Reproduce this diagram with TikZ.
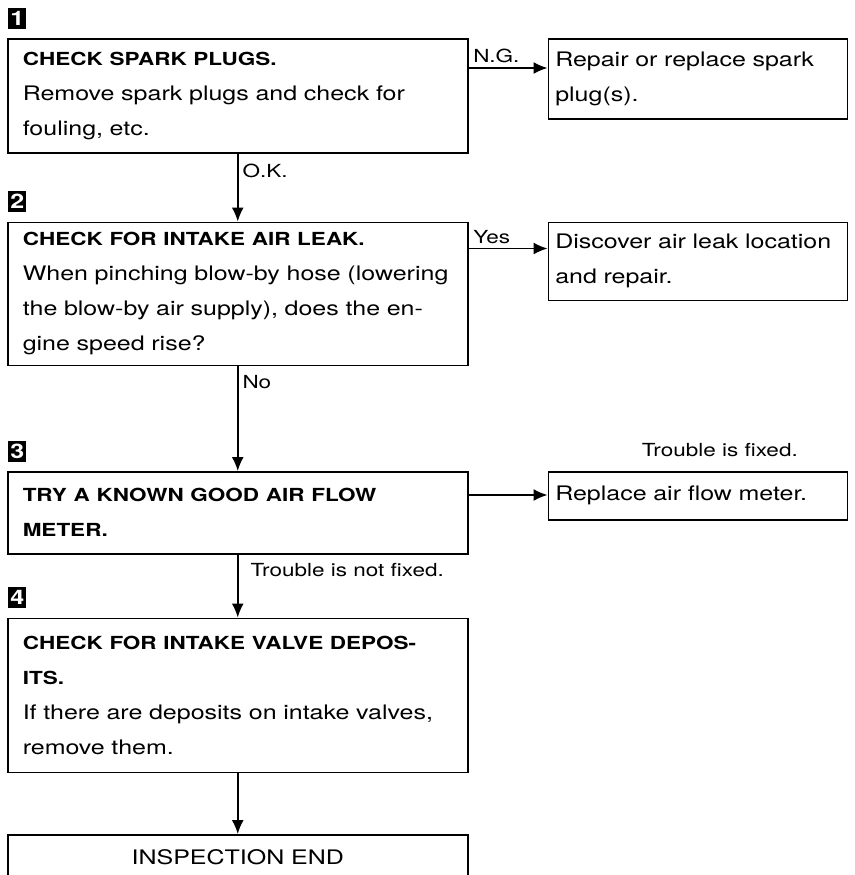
\documentclass[tikz,border=0pt]{standalone}
\usepackage{fontspec}
\setmainfont[FakeStretch=1.25]{TeX Gyre Heros}
\usetikzlibrary{positioning,arrows.meta}
\newcommand{\hd}[1]{{\fontsize{9}{17.5}\selectfont\bfseries #1}}

\begin{document}
\begin{tikzpicture}[node distance=34pt,
	box/.style={draw, line width=0.75pt, align=left, font=\fontsize{10}{17.5}\selectfont},
	stepbox/.style={box, text width=215pt, inner xsep=7.5pt, inner ysep=3pt},
	fixbox/.style={box, text width=142.5pt, inner xsep=3.5pt, inner ysep=3pt},
	num/.style={fill=black, text=white, font=\fontsize{10}{10}\selectfont\bfseries, minimum width=9pt, minimum height=10.5pt, inner sep=0pt},
	lbl/.style={font=\fontsize{9}{11}\selectfont, inner sep=2pt},
	line/.style={-{Latex[length=7pt,width=6pt]}, line width=0.75pt}]
	\useasboundingbox (0,0) rectangle (427.5pt,-437.5pt);

	% main column
	\node (plugs) [stepbox, minimum height=57pt, anchor=north west] at (3.5pt,-19pt)
		{\hd{CHECK SPARK PLUGS.}\\ Remove spark plugs and check for\\ fouling, etc.};
	\node (leak) [stepbox, minimum height=71.5pt, below=of plugs]
		{\hd{CHECK FOR INTAKE AIR LEAK.}\\ When pinching blow-by hose (lowering\\ the blow-by air supply), does the en-\\ gine speed rise?};
	\node (meter) [stepbox, minimum height=41pt, below=52.5pt of leak]
		{\hd{TRY A KNOWN GOOD AIR FLOW}\\ \hd{METER.}};
	\node (valves) [stepbox, minimum height=77pt, below=31.5pt of meter]
		{\hd{CHECK FOR INTAKE VALVE DEPOS-}\\ \hd{ITS.}\\ If there are deposits on intake valves,\\ remove them.};
	\node (finish) [stepbox, align=center, minimum height=22pt, below=30.5pt of valves] {INSPECTION END};

	% step numbers
	\node [num, above right=4.5pt and 0.5pt of plugs.north west] {1};
	\node [num, above right=4.5pt and 0.5pt of leak.north west] {2};
	\node [num, above right=4.5pt and 0.5pt of meter.north west] {3};
	\node [num, above right=4.5pt and 0.5pt of valves.north west] {4};

	% repairs on the right
	\node (replug) [fixbox, minimum height=40pt, right=39.5pt of plugs.north east, anchor=north west]
		{Repair or replace spark\\ plug(s).};
	\node (fixleak) [fixbox, minimum height=39pt, right=39.5pt of leak.north east, anchor=north west]
		{Discover air leak location\\ and repair.};
	\node (newmeter) [fixbox, minimum height=24pt, right=39.5pt of meter.north east, anchor=north west]
		{Replace air flow meter.};
	\node (fixed) [lbl, above=5pt of newmeter.north, xshift=11pt] {Trouble is fixed.};

	\draw[line] (plugs) -- node[lbl, right, pos=0.26] {O.K.} (leak);
	\draw[line] (leak) -- node[lbl, right, pos=0.15] {No} (meter);
	\draw[line] (meter) -- node[lbl, right, pos=0.25, xshift=4pt] {Trouble is not fixed.} (valves);
	\draw[line] (valves) -- (finish);

	\draw[line] ([yshift=-15pt]plugs.north east) -- node[lbl, above right, pos=0] {N.G.} ([yshift=-15pt]replug.north west);
	\draw[line] ([yshift=-13.5pt]leak.north east) -- node[lbl, above right, pos=0] {Yes} ([yshift=-13.5pt]fixleak.north west);
	\draw[line] ([yshift=-12pt]meter.north east) -- ([yshift=-12pt]newmeter.north west);
\end{tikzpicture}
\end{document}
